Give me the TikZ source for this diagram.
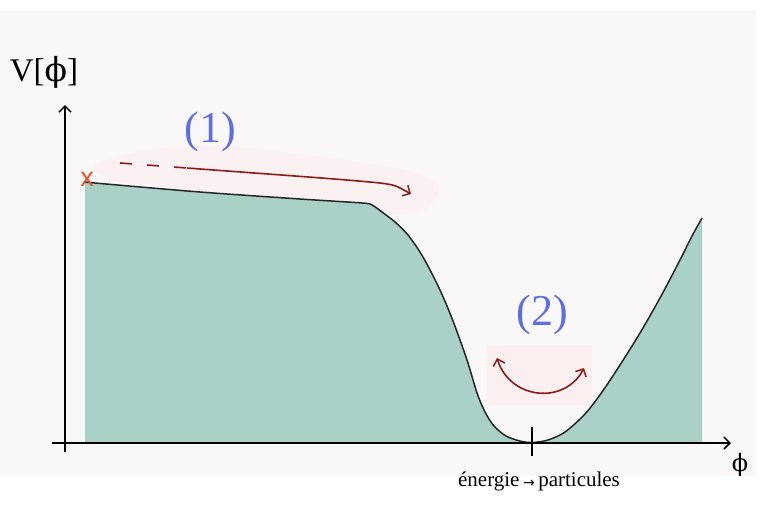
\documentclass[tikz,border=0pt]{standalone}
\usepackage{fontspec}
\setmainfont{Liberation Serif}
\newfontfamily\sansx{Liberation Sans}
\newfontfamily\phifont{DejaVu Serif}
\newfontfamily\arrowfont{DejaVu Sans}
\newcommand{\myphi}{{\phifont ϕ}}
\usetikzlibrary{arrows.meta}
\definecolor{bgpink}{HTML}{FAF7F8}
\definecolor{tealfill}{HTML}{AAD1C7}
\definecolor{glowpink}{HTML}{FCEFEF}
\definecolor{glowsoft}{HTML}{FBF1F2}
\definecolor{labblue}{HTML}{5C6FE3}
\definecolor{darkred}{HTML}{8A1C1C}
\definecolor{xred}{HTML}{E4532B}
\tikzset{
  axisline/.style={line width=1.6pt, black},
  curveline/.style={line width=1.5pt, black!85},
  redarrow/.style={line width=1.6pt, darkred},
  bigblue/.style={font=\fontsize{44}{44}\selectfont, text=labblue, inner sep=0pt},
  barb/.tip={Straight Barb[length=6pt,width=12pt,line width=1.5pt]}
}
\begin{document}
\begin{tikzpicture}[x=1pt,y=-1pt]
\useasboundingbox (0,0) rectangle (763,507);
\fill[white] (0,0) rectangle (763,507);
\fill[bgpink] (0,10) rectangle (756,476);
% glows
\fill[glowsoft] plot[smooth cycle, tension=0.7] coordinates {(105,160) (200,146) (330,158) (425,176) (434,200) (400,214) (300,204) (180,190) (106,178)};
\fill[glowpink] (487,345) rectangle (592,405);
% potential fill
\def\potpts{(85,182) (106,184) (200,192) (300,199) (362,203) (372,205) (382,212) (395,222) (408,235) (423,257) (440,290) (453,321) (467,360) (477,393) (485,412) (494,426) (506,436) (520,441) (532,442.5) (548,440) (565,432) (585,414) (602,392) (620,365) (640,333) (660,298) (680,260) (692,236) (702,218)}
\fill[tealfill] (85,443) -- plot[smooth, tension=0.5] coordinates {\potpts} -- (702,443) -- cycle;
\draw[curveline] plot[smooth, tension=0.5] coordinates {\potpts};
% axes
\coordinate (ybot) at (65,452);
\coordinate (ytop) at (65,105);
\coordinate (xleft) at (52,443);
\coordinate (xright) at (731,443);
\draw[axisline,-barb] (ybot) -- (ytop);
\draw[axisline,-barb] (xleft) -- (xright);
\coordinate (ticktop) at (532,427);
\coordinate (tickbot) at (532,456);
\draw[axisline] (ticktop) -- (tickbot);
% labels
\node[font=\fontsize{33}{33}\selectfont, inner sep=0pt] (vlab) at (44,72) {V[\myphi]};
\node[font=\fontsize{24}{24}\selectfont, inner sep=0pt] (philab) at (740,465) {\myphi};
\node[font=\fontsize{21}{21}\selectfont, inner sep=0pt, anchor=base] (enlab) at (539,486) {énergie\,\raisebox{-1pt}{\arrowfont\fontsize{14}{14}\selectfont →}\,particules};
\node[bigblue] (one) at (210,132) {(1)};
\node[bigblue] (two) at (542,315) {(2)};
\node[font=\sansx\fontsize{27}{27}\selectfont, text=xred, inner sep=0pt] (xmark) at (87,179) {x};
% arrow 1
\coordinate (a1s) at (120,163);
\coordinate (a1m) at (187,168);
\coordinate (a1k) at (380,183);
\coordinate (a1e) at (411,194);
\draw[redarrow, dash pattern=on 12pt off 15pt] (a1s) -- (a1m);
\draw[redarrow,-barb] (a1m) .. controls (280,175) and (340,179) .. (a1k) .. controls (395,185) .. (a1e);
% arrow 2
\coordinate (a2l) at (497,358);
\coordinate (a2r) at (584,368);
\draw[redarrow,barb-barb] (a2l) .. controls (510,400) and (565,405) .. (a2r);
\end{tikzpicture}
\end{document}
